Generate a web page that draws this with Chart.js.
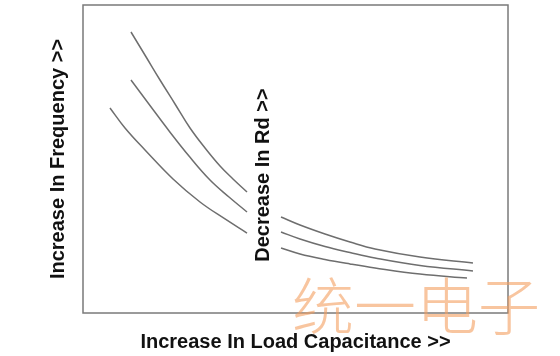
<!DOCTYPE html>
<html>
<head>
<meta charset="utf-8">
<script src="https://cdn.jsdelivr.net/npm/chart.js@4/dist/chart.umd.min.js"></script>
<style>
  html, body { margin: 0; padding: 0; background: #ffffff; }
  #wrap { width: 560px; height: 356px; position: relative; }
</style>
</head>
<body>
<div id="wrap"><canvas id="c" width="560" height="356"></canvas></div>
<script>
// Arbitrary units (0–100); null marks the gap around the label.
const topX = [11.29, 14.71, 18.12, 21.65, 25.18, 28.71, 32.24, 35.29, 38.59, 42.5, 46.59, 51.06, 56.94, 62.82, 68.71, 79.29, 91.76];
const topY = [91.23, 83.44, 75.65, 67.86, 60.06, 53.57, 47.73, 43.51, 39.29, null, 31.17, 28.57, 25.65, 23.05, 20.78, 18.18, 16.23];
const midX = [11.29, 15.76, 20.0, 24.94, 29.88, 34.35, 38.59, 42.5, 46.59, 51.06, 56.94, 62.82, 68.71, 79.29, 91.76];
const midY = [75.65, 67.37, 59.58, 50.97, 43.18, 37.66, 32.79, null, 26.30, 24.03, 21.59, 19.64, 17.86, 15.42, 13.64];
const lowX = [6.35, 9.88, 14.59, 21.18, 27.53, 33.41, 38.59, 42.5, 46.59, 51.06, 56.94, 62.82, 68.71, 79.29, 90.35];
const lowY = [66.56, 60.06, 52.92, 43.51, 36.04, 30.52, 25.97, null, 21.10, 19.16, 17.37, 15.91, 14.61, 12.66, 11.36];

const xTitle = 'Increase In Load Capacitance >>';
const yTitle = 'Increase In Frequency >>';
const curveLabel = 'Decrease In Rd >>';
const curveLabelPos = [42.4, 44.8];
const watermark = '统一电子';

const pts = (xs, ys) => xs.map((x, i) => ({ x: x, y: ys[i] }));
const lineStyle = {
  borderColor: '#6e6e6e', borderWidth: 1.5, pointRadius: 0, fill: false,
  spanGaps: false, tension: 0.4
};

const FONT = "'Liberation Sans', Arial, sans-serif";

const boxAndText = {
  id: 'boxAndText',
  afterDatasetsDraw(chart) {
    const { ctx, chartArea: a, scales } = chart;
    ctx.save();
    ctx.strokeStyle = '#7a7a7a';
    ctx.lineWidth = 1.5;
    ctx.strokeRect(a.left, a.top, a.right - a.left, a.bottom - a.top);
    const lx = scales.x.getPixelForValue(curveLabelPos[0]);
    const ly = scales.y.getPixelForValue(curveLabelPos[1]);
    ctx.translate(lx, ly);
    ctx.rotate(-Math.PI / 2);
    ctx.fillStyle = '#111111';
    ctx.font = 'bold 20px ' + FONT;
    ctx.textAlign = 'center';
    ctx.textBaseline = 'middle';
    ctx.fillText(curveLabel, 0, 0);
    ctx.restore();
  },
  afterDraw(chart) {
    const { ctx } = chart;
    ctx.save();
    ctx.fillStyle = 'rgba(243,158,95,0.6)';
    ctx.font = "300 62px 'Noto Sans CJK SC', sans-serif";
    ctx.textAlign = 'left';
    ctx.textBaseline = 'middle';
    ctx.fillText(watermark, 292, 306);
    ctx.restore();
  }
};

new Chart(document.getElementById('c'), {
  type: 'line',
  data: {
    datasets: [
      Object.assign({ data: pts(topX, topY) }, lineStyle),
      Object.assign({ data: pts(midX, midY) }, lineStyle),
      Object.assign({ data: pts(lowX, lowY) }, lineStyle)
    ]
  },
  options: {
    responsive: false,
    animation: false,
    layout: { padding: { left: 42, top: 5, right: 52, bottom: 0 } },
    plugins: { legend: { display: false }, tooltip: { enabled: false } },
    scales: {
      x: {
        type: 'linear', min: 0, max: 100,
        grid: { display: false }, border: { display: false },
        ticks: { display: false },
        title: { display: true, text: xTitle, color: '#111111',
                 font: { family: FONT, size: 20, weight: 'bold' }, padding: { top: 4, bottom: 2 } },
        afterFit(s) { s.height = 43; }
      },
      y: {
        type: 'linear', min: 0, max: 100,
        grid: { display: false }, border: { display: false },
        ticks: { display: false },
        title: { display: true, text: yTitle, color: '#111111',
                 font: { family: FONT, size: 20, weight: 'bold' }, padding: { top: 4, bottom: 4 } },
        afterFit(s) { s.width = 41; }
      }
    }
  },
  plugins: [boxAndText]
});
</script>
</body>
</html>
